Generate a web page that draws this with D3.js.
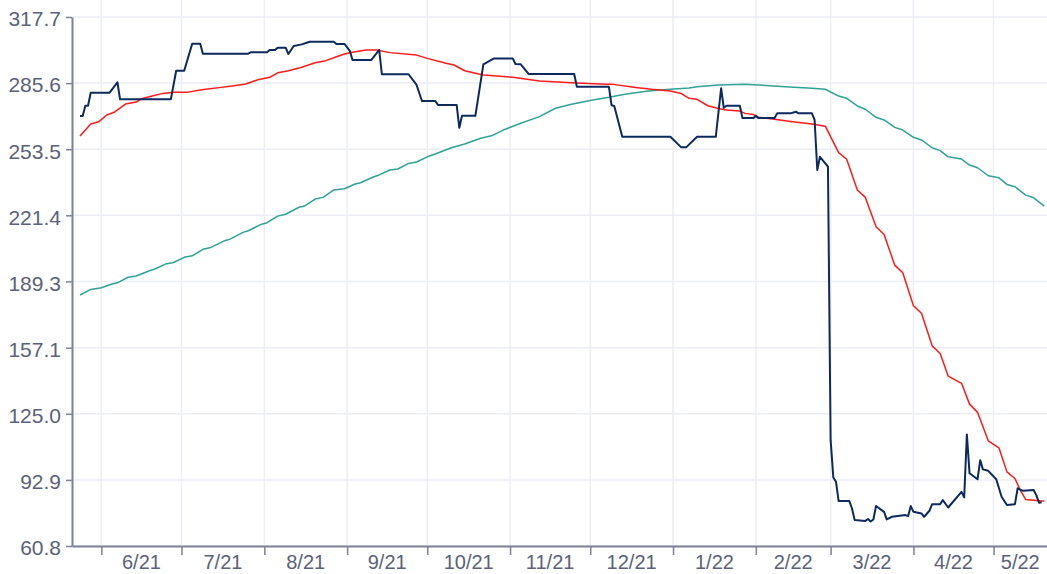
<!DOCTYPE html>
<meta charset="utf-8">
<head>
<title>Price chart</title>
<style>
  body { margin: 0; background: #fff; }
  svg { display: block; font-family: "Liberation Sans", Arial, sans-serif; }
  .grid line { stroke: #eceef4; stroke-width: 1.5; }
  .axis path, .axis line { stroke: #7d8299; }
  .axis path { stroke-width: 2; }
  .axis line { stroke-width: 1.5; }
  .axis text, .xlabel { fill: #5b6179; }
  .series { fill: none; stroke-linejoin: round; }
</style>
</head>
<body>
<svg width="1047" height="574"></svg>
<script src="https://cdnjs.cloudflare.com/ajax/libs/d3/7.8.5/d3.min.js"></script>
<script>
// y ticks and month labels
var yTicks = [60.8, 92.9, 125.0, 157.1, 189.3, 221.4, 253.5, 285.6, 317.7];
var monthLabels = ["6/21", "7/21", "8/21", "9/21", "10/21", "11/21", "12/21", "1/22", "2/22", "3/22", "4/22", "5/22"];

// daily price (dark blue)
var price = [
  ["2021-05-24",269.6],["2021-05-25",269.6],["2021-05-26",274.6],["2021-05-27",274.6],["2021-05-28",280.9],
  ["2021-06-04",280.9],["2021-06-07",286.0],["2021-06-08",277.7],["2021-06-27",277.7],["2021-06-29",291.6],
  ["2021-07-02",291.6],["2021-07-05",304.7],["2021-07-08",304.7],["2021-07-09",299.9],["2021-07-26",299.9],
  ["2021-07-27",300.6],["2021-08-02",300.6],["2021-08-03",301.7],["2021-08-05",301.7],["2021-08-06",302.8],
  ["2021-08-09",302.8],["2021-08-10",299.7],["2021-08-12",303.6],["2021-08-15",304.4],["2021-08-18",305.7],
  ["2021-08-27",305.7],["2021-08-28",304.6],["2021-08-31",304.6],["2021-09-02",301.3],["2021-09-03",296.8],
  ["2021-09-10",296.8],["2021-09-13",301.7],["2021-09-14",289.9],["2021-09-24",289.9],["2021-09-27",284.7],
  ["2021-09-29",276.9],["2021-10-04",276.9],["2021-10-05",275.0],["2021-10-12",275.0],["2021-10-13",263.9],
  ["2021-10-14",269.7],["2021-10-19",269.7],["2021-10-22",294.7],["2021-10-26",297.6],["2021-11-02",297.6],
  ["2021-11-03",294.9],["2021-11-05",294.7],["2021-11-08",290.0],["2021-11-25",290.0],["2021-11-26",283.8],
  ["2021-12-08",283.8],["2021-12-09",274.8],["2021-12-10",274.5],["2021-12-13",259.5],["2021-12-31",259.5],
  ["2022-01-04",254.5],["2022-01-06",254.5],["2022-01-10",259.5],["2022-01-17",259.5],["2022-01-19",283.1],
  ["2022-01-20",273.6],["2022-01-21",274.6],["2022-01-26",274.6],["2022-01-27",268.6],["2022-01-31",268.6],
  ["2022-02-01",269.6],["2022-02-02",268.6],["2022-02-08",268.6],["2022-02-09",270.9],["2022-02-14",270.9],
  ["2022-02-16",271.7],["2022-02-17",270.9],["2022-02-22",270.9],["2022-02-23",267.7],["2022-02-24",243.4],
  ["2022-02-25",249.8],["2022-02-28",245.0],["2022-03-01",112.2],["2022-03-02",94.1],["2022-03-03",92.0],
  ["2022-03-04",82.6],["2022-03-08",82.6],["2022-03-09",79.0],["2022-03-10",73.4],["2022-03-14",73.0],
  ["2022-03-15",73.9],["2022-03-16",72.7],["2022-03-17",73.7],["2022-03-18",80.2],["2022-03-21",77.4],
  ["2022-03-22",73.7],["2022-03-24",75.0],["2022-03-29",75.8],["2022-03-30",75.3],["2022-03-31",80.2],
  ["2022-04-01",77.4],["2022-04-04",76.6],["2022-04-05",75.0],["2022-04-07",77.9],["2022-04-08",81.1],
  ["2022-04-11",81.1],["2022-04-12",83.1],["2022-04-14",79.5],["2022-04-19",87.1],["2022-04-20",84.4],
  ["2022-04-21",115.0],["2022-04-22",96.1],["2022-04-25",93.2],["2022-04-26",102.5],["2022-04-27",98.0],
  ["2022-04-29",97.3],["2022-05-02",93.2],["2022-05-04",84.7],["2022-05-06",80.7],["2022-05-09",81.1],
  ["2022-05-10",88.8],["2022-05-12",87.6],["2022-05-16",88.0],["2022-05-17",85.5],["2022-05-18",81.8],
  ["2022-05-19",82.0]
];

// shorter moving average (red)
var avgShort = [
  ["2021-05-24",259.9],["2021-05-28",265.7],["2021-05-31",266.8],["2021-06-03",270.1],["2021-06-06",271.6],
  ["2021-06-10",275.4],["2021-06-14",276.4],["2021-06-16",278.0],["2021-06-20",279.3],["2021-06-24",280.6],
  ["2021-06-28",281.1],["2021-07-03",281.1],["2021-07-08",282.2],["2021-07-10",282.6],["2021-07-15",283.4],
  ["2021-07-20",284.2],["2021-07-25",285.2],["2021-07-30",287.4],["2021-08-03",288.4],["2021-08-06",290.6],
  ["2021-08-10",291.6],["2021-08-15",293.3],["2021-08-20",295.5],["2021-08-24",296.5],["2021-08-28",298.4],
  ["2021-08-31",299.7],["2021-09-03",300.6],["2021-09-08",301.7],["2021-09-12",301.7],["2021-09-17",300.4],
  ["2021-09-27",299.2],["2021-10-01",297.6],["2021-10-08",295.2],["2021-10-11",294.4],["2021-10-15",291.6],
  ["2021-10-19",290.4],["2021-10-22",289.5],["2021-11-02",288.4],["2021-11-12",286.6],["2021-11-24",285.8],
  ["2021-12-07",285.1],["2021-12-09",285.1],["2021-12-18",283.5],["2021-12-24",282.6],["2021-12-31",281.8],
  ["2022-01-04",280.6],["2022-01-07",278.2],["2022-01-10",277.7],["2022-01-14",274.6],["2022-01-18",273.3],
  ["2022-01-21",272.5],["2022-01-26",272.0],["2022-01-28",270.9],["2022-01-31",270.4],["2022-02-02",269.0],
  ["2022-02-08",268.0],["2022-02-14",267.0],["2022-02-22",265.7],["2022-02-27",264.7],["2022-03-04",251.8],
  ["2022-03-07",248.6],["2022-03-11",233.7],["2022-03-14",230.1],["2022-03-18",215.8],["2022-03-21",212.1],
  ["2022-03-25",197.2],["2022-03-28",193.5],["2022-04-01",177.5],["2022-04-04",173.8],["2022-04-08",158.0],
  ["2022-04-11",154.3],["2022-04-14",143.3],["2022-04-19",139.8],["2022-04-22",129.7],["2022-04-25",125.7],
  ["2022-04-29",111.9],["2022-05-03",108.5],["2022-05-06",96.8],["2022-05-09",93.6],["2022-05-11",87.9],
  ["2022-05-13",83.4],["2022-05-19",82.7],["2022-05-20",82.7]
];

// longer moving average (teal)
var avgLong = [
  ["2021-05-24",182.7],["2021-05-28",185.4],["2021-06-01",186.2],["2021-06-05",188.0],["2021-06-07",188.6],
  ["2021-06-11",191.3],["2021-06-14",191.9],["2021-06-19",194.5],["2021-06-21",195.3],["2021-06-25",197.7],
  ["2021-06-28",198.5],["2021-07-02",201.0],["2021-07-05",201.7],["2021-07-09",204.9],["2021-07-12",205.8],
  ["2021-07-17",209.0],["2021-07-19",209.7],["2021-07-24",213.1],["2021-07-26",213.9],["2021-07-31",217.1],
  ["2021-08-02",217.8],["2021-08-06",221.0],["2021-08-09",221.9],["2021-08-14",225.3],["2021-08-16",225.9],
  ["2021-08-20",229.3],["2021-08-23",230.1],["2021-08-27",233.7],["2021-08-31",234.3],["2021-09-04",236.6],
  ["2021-09-06",237.2],["2021-09-11",240.1],["2021-09-13",241.0],["2021-09-17",243.4],["2021-09-20",243.9],
  ["2021-09-24",246.6],["2021-09-27",247.3],["2021-10-01",249.8],["2021-10-04",251.2],["2021-10-10",254.2],
  ["2021-10-15",256.0],["2021-10-21",258.8],["2021-10-25",260.0],["2021-10-30",263.1],["2021-11-05",266.1],
  ["2021-11-12",269.3],["2021-11-18",273.4],["2021-11-24",275.3],["2021-12-02",277.4],["2021-12-08",278.7],
  ["2021-12-14",280.2],["2021-12-22",281.6],["2021-12-27",282.2],["2021-12-31",282.6],["2022-01-07",283.2],
  ["2022-01-10",283.8],["2022-01-18",284.7],["2022-01-28",285.0],["2022-02-02",284.7],["2022-02-12",283.8],
  ["2022-02-22",283.1],["2022-02-27",282.6],["2022-03-04",279.3],["2022-03-07",278.2],["2022-03-11",274.5],
  ["2022-03-14",272.9],["2022-03-18",269.0],["2022-03-21",267.7],["2022-03-25",264.1],["2022-03-28",262.8],
  ["2022-04-01",259.3],["2022-04-04",258.0],["2022-04-08",254.2],["2022-04-11",252.8],["2022-04-14",249.8],
  ["2022-04-19",248.7],["2022-04-22",245.8],["2022-04-25",244.5],["2022-04-29",240.6],["2022-05-03",239.6],
  ["2022-05-06",236.4],["2022-05-09",235.3],["2022-05-13",231.2],["2022-05-16",229.9],["2022-05-20",225.9]
];

//////////////////////////////////////////////////
// Layout
//////////////////////////////////////////////////
var plotLeft = 72, plotRight = 1047, plotTop = 17, plotBottom = 546;
var parse = d3.timeParse("%Y-%m-%d");
var startDate = new Date(2021, 4, 21), endDate = new Date(2022, 4, 21);

var svg = d3.select("svg");

var x = d3.scaleTime()
  .domain([startDate, endDate])
  .range([plotLeft, plotRight]);
var y = d3.scaleLinear()
  .domain([yTicks[0], yTicks[yTicks.length - 1]])
  .range([plotBottom, plotTop]);

var monthStarts = d3.timeMonth.range(new Date(2021, 5, 1), new Date(2022, 4, 2));

// grid
var grid = svg.append("g").attr("class", "grid");
grid.selectAll(".vgrid").data(monthStarts).enter().append("line")
  .attr("x1", function(d) { return x(d); }).attr("x2", function(d) { return x(d); })
  .attr("y1", 0).attr("y2", plotBottom);
grid.selectAll(".hgrid").data(yTicks).enter().append("line")
  .attr("x1", plotLeft).attr("x2", plotRight)
  .attr("y1", function(d) { return y(d); }).attr("y2", function(d) { return y(d); });

// axes
svg.append("g").attr("class", "axis")
  .attr("transform", "translate(0," + plotBottom + ")")
  .call(d3.axisBottom(x).tickValues(monthStarts).tickSize(9).tickSizeOuter(0).tickFormat(""));

// month labels sit in the middle of the visible part of each month
svg.selectAll(".xlabel").data(monthLabels).enter().append("text")
  .attr("class", "xlabel")
  .attr("x", function(d, i) {
    var a = monthStarts[i];
    var b = d3.min([d3.timeMonth.offset(a, 1), endDate]);
    return (x(a) + x(b)) / 2;
  })
  .attr("y", 569)
  .attr("text-anchor", "middle")
  .style("font-size", "20px")
  .text(function(d) { return d; });

var yAxis = svg.append("g").attr("class", "axis")
  .attr("transform", "translate(" + plotLeft + ",0)")
  .call(d3.axisLeft(y).tickValues(yTicks).tickSize(6).tickSizeOuter(0).tickPadding(5).tickFormat(d3.format(".1f")));
yAxis.selectAll("text").style("font-size", "21px").attr("dy", "0.42em");

// lines
var line = d3.line()
  .x(function(d) { return x(parse(d[0])); })
  .y(function(d) { return y(d[1]); });

svg.append("path").datum(avgLong).attr("class", "series")
  .attr("stroke", "#2ea394").attr("stroke-width", 1.5).attr("d", line);
svg.append("path").datum(avgShort).attr("class", "series")
  .attr("stroke", "#ff1a1a").attr("stroke-width", 1.5).attr("d", line);
svg.append("path").datum(price).attr("class", "series")
  .attr("stroke", "#0c2a5e").attr("stroke-width", 2).attr("d", line);
</script>
</body>
</html>
